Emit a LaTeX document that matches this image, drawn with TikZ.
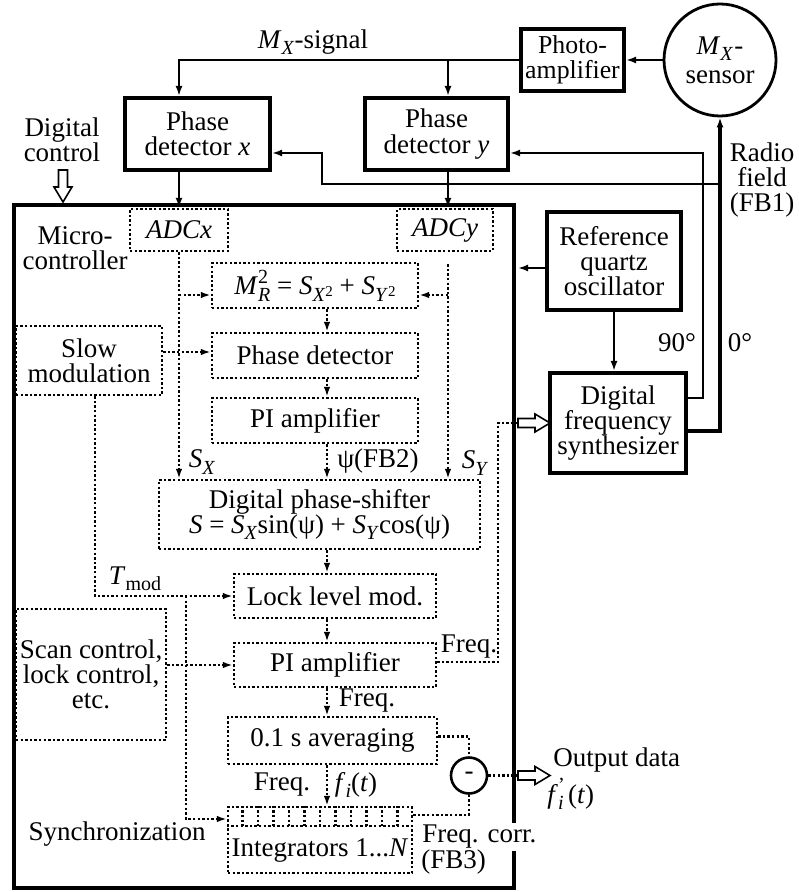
\documentclass[tikz,border=0pt]{standalone}
\usepackage{fontspec}
\setmainfont{Liberation Serif}
\usetikzlibrary{arrows.meta,calc}
\newcommand\sbs[1]{\raisebox{-0.5ex}{\fontsize{10pt}{10pt}\selectfont #1}}
\newcommand\sps[1]{\raisebox{0.95ex}{\fontsize{10pt}{10pt}\selectfont #1}}
\newcommand\ssps[1]{\raisebox{0.55ex}{\fontsize{7.5pt}{7.5pt}\selectfont #1}}
\begin{document}
\begin{tikzpicture}[x=0.5pt, y=-0.5pt,
  every node/.style={font=\fontsize{13.5pt}{12.6pt}\selectfont, inner sep=0pt, align=center},
  tbox/.style={draw, line width=2pt},
  dbox/.style={draw, line width=1.2pt, dash pattern=on 1.2pt off 1.1pt},
  dln/.style={line width=1.2pt, dash pattern=on 1.2pt off 1.1pt},
  sln/.style={line width=1pt},
  mln/.style={line width=1.25pt},
  thk/.style={line width=1.6pt},
  arrS/.style={-{Latex[length=5pt,width=3.5pt]}},
  arrD/.style={-{Latex[length=5pt,width=3.3pt]}},
  hollowR/.pic={\draw[line width=0.8pt, fill=white] (0,-4.5) -- (17,-4.5) -- (17,-9) -- (32,0) -- (17,9) -- (17,4.5) -- (0,4.5) -- cycle;}
]
\useasboundingbox (0,0) rectangle (798,892);

% columns
\coordinate (cy) at (448,0);
\coordinate (cc) at (327,0);
\coordinate (sx) at (95,0);
\coordinate (bx) at (186,0);
\coordinate (cf) at (498,0);
\coordinate (n90) at (703,0);
\coordinate (rb) at (720,184);
\coordinate (rk) at (322,184);

% microcontroller frame
\node[tbox, minimum width=250pt, minimum height=341.5pt] (micro) at (264,546.5) {};

% outside blocks
\node[tbox, line width=1.4pt, circle, minimum size=56pt, text depth=-4pt, font=\fontsize{13.5pt}{14.5pt}\selectfont] (sensor) at (720,60) {\textit{M}\sbs{\textit{X}}\kern0.6pt-\\sensor};
\node[tbox, minimum width=51.5pt, minimum height=31pt, font=\fontsize{12.9pt}{12.6pt}\selectfont] (photo) at (572.5,60) {Photo-\\amplifier};
\node[tbox, minimum width=72.5pt, minimum height=36pt] (pdx) at (197.5,134) {Phase\\detector \textit{x}};
\node[tbox, minimum width=71.5pt, minimum height=36pt] (pdy) at (436.5,134) {Phase\\detector \textit{y}};
\node[tbox, minimum width=67pt, minimum height=49pt] (refosc) at (614,261) {Reference\\quartz\\oscillator};
\node[tbox, minimum width=68pt, minimum height=50pt] (synth) at (618,423) {Digital\\frequency\\synthesizer};

% inner blocks
\node[dbox, minimum width=49pt, minimum height=21pt] (adcx) at (179,230) {\textit{ADCx}};
\node[dbox, minimum width=48pt, minimum height=21pt] (adcy) at (445,230) {\textit{ADCy}};
\node[dbox, minimum width=103pt, minimum height=22.5pt] (mr) at (315,285.5)
  {\textit{M}\rlap{\sps{2}}\sbs{\textit{R}} = \textit{S}\sbs{\textit{X}\ssps{2}} + \textit{S}\sbs{\textit{Y}\ssps{2}}};
\node[dbox, minimum width=103pt, minimum height=22.5pt] (pd) at (315,355.5) {Phase detector};
\node[dbox, minimum width=103pt, minimum height=22.5pt] (pi1) at (315,420.5) {PI amplifier};
\node[dbox, minimum width=160.5pt, minimum height=34.5pt] (ps) at (319.5,514.5)
  {Digital phase-shifter\\\textit{S} = \textit{S}\sbs{\textit{X}}sin(ψ) + \textit{S}\sbs{\textit{Y}}cos(ψ)};
\node[dbox, minimum width=101pt, minimum height=22pt] (llm) at (335,596) {Lock level mod.};
\node[dbox, minimum width=101pt, minimum height=22pt] (pi2) at (335,665) {PI amplifier};
\node[dbox, minimum width=104.5pt, minimum height=23.5pt] (avg) at (332.5,740.5) {0.1 s averaging};
\node[dbox, minimum width=92pt, minimum height=33pt] (integ) at (320,840) {};
\node at ([yshift=-5pt]integ.center) {Integrators 1...\textit{N}};
\node[dbox, minimum width=73pt, minimum height=34.5pt] (slow) at (89,360.5) {Slow\\modulation};
\node[dbox, minimum width=75pt, minimum height=65.5pt] (scan) at (91,674.5) {Scan control,\\lock control,\\etc.};
\node[draw, circle, line width=1.3pt, minimum size=18pt] (minus) at (469,775.5) {-};

% integrator cells
\draw[dln] ([yshift=-10pt]integ.north west) -- ([yshift=-10pt]integ.north east);
\foreach \i in {1,...,11} \draw[dln] ($(integ.north west)!\i/12!(integ.north east)$) -- ++(0,20);

% labels
\node at (313,42) {\textit{M}\sbs{\textit{X}}-signal};
\node at (62,140) {Digital\\control};
\node at (75,248) {Micro-\\controller};
\node at (762,180) {Radio\\field\\(FB1)};
\node at (677,343) {90°};
\node at (740,343) {0°};
\node at (202,462) {\textit{S}\sbs{\textit{X}}};
\node at (378,461) {ψ(FB2)};
\node at (475,463) {\textit{S}\sbs{\textit{Y}}};
\node at (135,579) {\textit{T}\sbs{mod}};
\node at (469,647) {Freq.};
\node at (367,701) {Freq.};
\node at (282,785) {Freq.};
\node at (356,785) {\textit{f}\sbs{\textit{i}}(\textit{t})};
\node at (117,834) {Synchronization};
\node[anchor=west] at (553,760) {Output data};
\node[anchor=west] at (547,794) {\textit{f}\rlap{\sps{'}}\sbs{\textit{i}}\,(\textit{t})};
\node[anchor=west, fill=white, inner sep=1pt] at (420,837) {Freq. corr.};
\node[anchor=west] at (421,862) {(FB3)};

% solid connectors
\draw[mln, arrS] (sensor.west) -- (photo.east);
\draw[sln, arrS] (photo.west) -| (pdx.north -| adcx.north);
\draw[sln, arrS] (cy |- photo.west) -- (cy |- pdy.north);
\draw[sln, arrS] (pdx.south -| adcx.north) -- (adcx.north);
\draw[sln, arrS] (cy |- pdy.south) -- (cy |- adcy.north);
\draw[mln, arrS] ([yshift=-3.5pt]refosc.west) -- ([yshift=-3.5pt,xshift=1pt]micro.east |- refosc.west);
\draw[mln, arrS] (refosc.south) -- (refosc.south |- synth.north);
\draw[thk, arrS] ([yshift=-4pt]synth.east) -| (sensor.south);
\coordinate (pdyin) at ([yshift=-9.5pt]pdy.east);
\coordinate (pdxin) at ([yshift=-9.5pt]pdx.east);
\draw[mln, arrS] ([yshift=12.5pt]synth.east) -| (n90 |- pdyin) -- (pdyin);
\draw[sln, arrS] (rb) -- (rk) |- (pdxin);

% hollow arrows
\pic[rotate=-90] at (63,170) {hollowR};
\draw[dln] ([yshift=1.5pt]pi2.east) -| (cf |- synth.west) -- (micro.east |- synth.west);
\pic at ([xshift=1pt]micro.east |- synth.west) {hollowR};
\draw[dln] (minus.east) -- (micro.east |- minus.east);
\pic at ([xshift=1pt]micro.east |- minus.east) {hollowR};

% dotted connectors
\draw[dln, arrD] (adcx.south) -- (adcx.south |- ps.north);
\draw[dln, arrD] ([yshift=-4.75pt]mr.west -| adcx.south) -- ([yshift=-4.75pt]mr.west);
\draw[dln, arrD] ([yshift=-6pt]adcy.south -| cy) -- (cy |- ps.north);
\draw[dln, arrD] ([yshift=-4.75pt]mr.east -| cy) -- ([yshift=-4.75pt]mr.east);
\draw[dln, arrD] ([yshift=1.75pt]pd.west -| slow.east) -- ([yshift=1.75pt]pd.west);
\draw[dln, arrD] (mr.south -| cc) -- (pd.north -| cc);
\draw[dln, arrD] (pd.south -| cc) -- (pi1.north -| cc);
\draw[dln, arrD] (pi1.south -| cc) -- (ps.north -| cc);
\draw[dln, arrD] (ps.south -| cc) -- (llm.north -| cc);
\draw[dln, arrD] (llm.south -| cc) -- (pi2.north -| cc);
\draw[dln, arrD] (pi2.south -| cc) -- (avg.north -| cc);
\draw[dln, arrD] (avg.south -| cc) -- (integ.north -| cc);
\draw[dln, arrD] (slow.south -| sx) |- (llm.west);
\draw[dln, arrD] (bx |- llm.west) |- ([yshift=10.5pt]integ.west);
\draw[dln, arrD] (scan.east |- pi2.west) -- (pi2.west);
\draw[dln] ([yshift=2pt]avg.east) -| (minus.north);
\draw[dln] (minus.south) |- ([yshift=12.5pt]integ.east);
\end{tikzpicture}
\end{document}
